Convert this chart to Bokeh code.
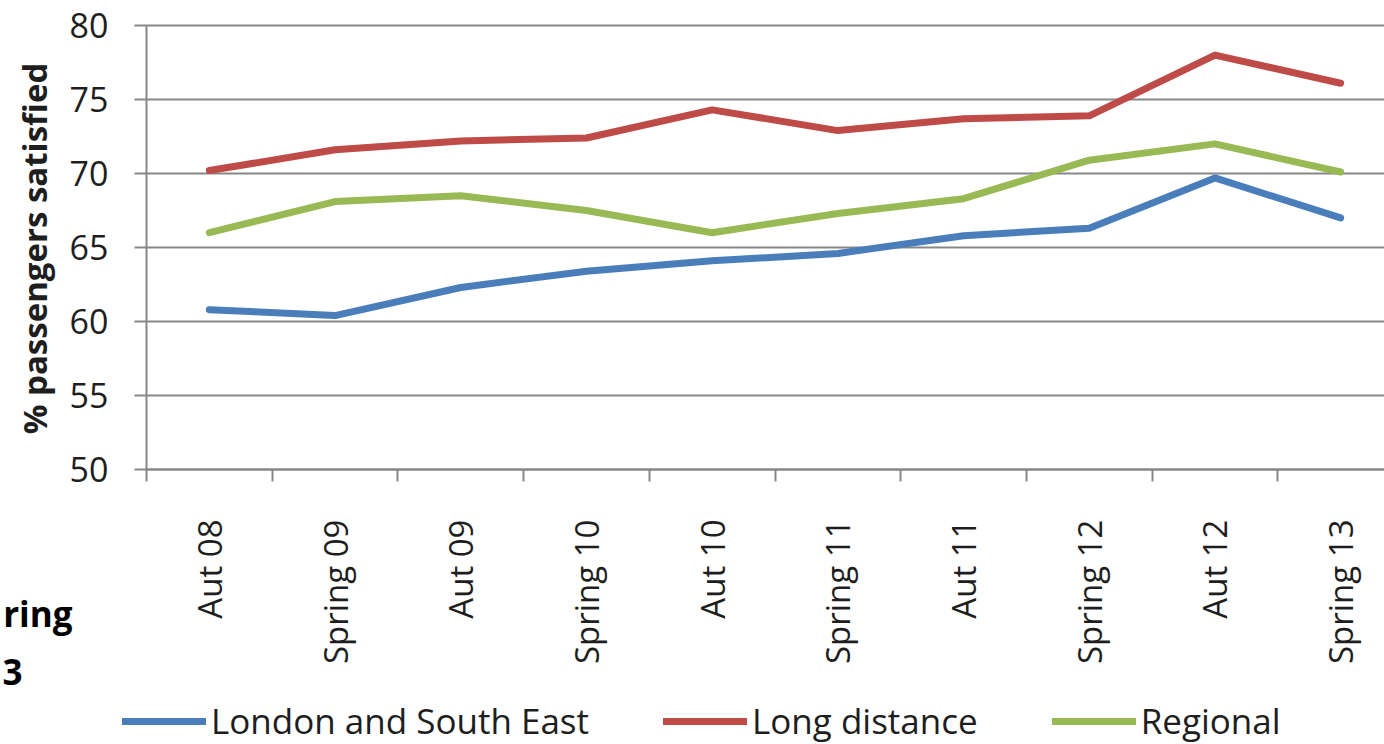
import math

from bokeh.embed import file_html
from bokeh.resources import INLINE
from bokeh.plotting import figure
from bokeh.models import (ColumnDataSource, Range1d, FixedTicker, Legend,
                          LegendItem, Label)

# Survey waves and % of passengers satisfied, by sector
periods = ["Aut 08", "Spring 09", "Aut 09", "Spring 10", "Aut 10",
           "Spring 11", "Aut 11", "Spring 12", "Aut 12", "Spring 13"]
london_se = [60.8, 60.4, 62.3, 63.4, 64.1, 64.6, 65.8, 66.3, 69.7, 67.0]
long_distance = [70.2, 71.6, 72.2, 72.4, 74.3, 72.9, 73.7, 73.9, 78.0, 76.1]
regional = [66.0, 68.1, 68.5, 67.5, 66.0, 67.3, 68.3, 70.9, 72.0, 70.1]
y_ticks = [50, 55, 60, 65, 70, 75, 80]

FONT = "Open Sans"
GRID = "#878787"
TEXT = "#1e1e1e"
W, H = 1384, 744

# page geometry (px): plot area starts at x=146, y=80 sits 25px from the top,
# one category band is 125.7px wide and one percentage point is 14.8px tall
LEFT_PX, TOP_PX, BAND_PX, UNIT_PX = 146, 25, 125.7, 14.8
x0 = -LEFT_PX / BAND_PX
x1 = x0 + W / BAND_PX
y1 = y_ticks[-1] + TOP_PX / UNIT_PX
y0 = y1 - H / UNIT_PX

# each wave sits in the middle of its own category band
xs = [i + 0.5 for i in range(len(periods))]
src = ColumnDataSource(dict(x=xs, lse=london_se, ld=long_distance, reg=regional))

p = figure(width=W, height=H, output_backend="svg", toolbar_location=None,
           x_range=Range1d(x0, x1), y_range=Range1d(y0, y1),
           min_border=0, outline_line_color=None,
           background_fill_color="white", border_fill_color="white")

# horizontal gridlines across the plot area
p.xgrid.visible = False
p.ygrid.visible = False
p.segment(x0=[0] * len(y_ticks), x1=[x1] * len(y_ticks), y0=y_ticks, y1=y_ticks,
          line_color=GRID, line_width=2)

# horizontal axis pinned to the bottom of the value scale:
# labels centred in each band, tick marks on band edges
xa = p.xaxis[0]
xa.fixed_location = y_ticks[0]
xa.bounds = (0, x1)
xa.ticker = FixedTicker(ticks=xs, minor_ticks=list(range(len(periods))))
xa.major_label_overrides = {x: lab for x, lab in zip(xs, periods)}
xa.major_label_orientation = math.pi / 2
xa.major_tick_line_color = None
xa.major_tick_out = 0
xa.major_tick_in = 0
xa.minor_tick_line_color = GRID
xa.minor_tick_line_width = 2
xa.minor_tick_out = 12
xa.minor_tick_in = 0
xa.major_label_standoff = 38
xa.axis_line_color = GRID
xa.axis_line_width = 2
xa.major_label_text_font = FONT
xa.major_label_text_font_size = "33px"
xa.major_label_text_color = TEXT

# vertical axis pinned to the left edge of the first band
ya = p.yaxis[0]
ya.fixed_location = 0
ya.bounds = (y_ticks[0], y_ticks[-1])
ya.ticker = FixedTicker(ticks=y_ticks)
ya.major_tick_out = 12
ya.major_tick_in = 0
ya.major_tick_line_color = GRID
ya.major_tick_line_width = 2
ya.minor_tick_line_color = None
ya.axis_line_color = GRID
ya.axis_line_width = 2
ya.major_label_standoff = 26
ya.major_label_text_font = FONT
ya.major_label_text_font_size = "34px"
ya.major_label_text_color = TEXT

p.add_layout(Label(x=34, y=248, x_units="canvas", y_units="canvas",
                   text="% passengers satisfied", angle=math.pi / 2,
                   text_align="center", text_baseline="middle",
                   text_font=FONT, text_font_style="bold",
                   text_font_size="33px", text_color=TEXT))

style = dict(line_width=7, line_cap="round", line_join="round")
r_lse = p.line("x", "lse", source=src, line_color="#4A7EBB", **style)
r_ld = p.line("x", "ld", source=src, line_color="#BE4B48", **style)
r_reg = p.line("x", "reg", source=src, line_color="#98B954", **style)

legend = Legend(items=[LegendItem(label="London and South East", renderers=[r_lse]),
                       LegendItem(label="Long distance", renderers=[r_ld]),
                       LegendItem(label="Regional", renderers=[r_reg])],
                orientation="horizontal", location=(122, 0),
                glyph_width=84, glyph_height=20, label_standoff=5, spacing=74,
                padding=0, margin=0, border_line_color=None,
                background_fill_alpha=0,
                label_text_font=FONT, label_text_font_size="35px",
                label_text_color=TEXT)
p.add_layout(legend, "center")

# tail of the bold heading that runs in from the left of the page
for txt, xpos, ypos in [("ring", 72, 613), ("3", 22, 671)]:
    p.add_layout(Label(x=xpos, y=ypos, x_units="canvas", y_units="canvas",
                       text=txt, text_align="right", text_baseline="alphabetic",
                       text_font=FONT, text_font_style="bold",
                       text_font_size="35px", text_color="black"))

open("out.html", "w").write(file_html(p, INLINE))
